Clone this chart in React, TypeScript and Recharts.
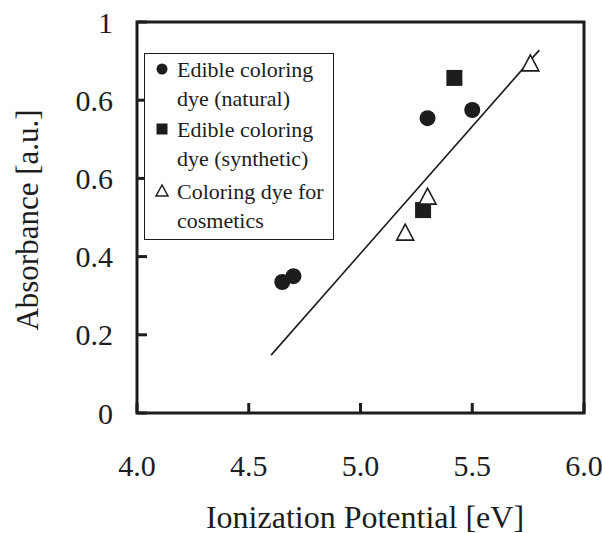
import { ScatterChart, Scatter, XAxis, YAxis, ReferenceArea } from "recharts";

// values
const naturalDye = [
  { x: 4.65, y: 0.335 },
  { x: 4.7, y: 0.35 },
  { x: 5.3, y: 0.754 },
  { x: 5.5, y: 0.775 },
];
const syntheticDye = [
  { x: 5.42, y: 0.857 },
  { x: 5.28, y: 0.519 },
];
const cosmeticDye = [
  { x: 5.2, y: 0.46 },
  { x: 5.3, y: 0.552 },
  { x: 5.76, y: 0.893 },
];
const fitLine = [
  { x: 4.6, y: 0.148 },
  { x: 5.8, y: 0.928 },
];

const xTicks = [4.0, 4.5, 5.0, 5.5, 6.0];
const yTicks = [0, 0.2, 0.4, 0.6, 0.8, 1];
const yTickLabels = ["0", "0.2", "0.4", "0.6", "0.6", "1"];

const seriesNames = [
  ["Edible coloring", "dye (natural)"],
  ["Edible coloring", "dye (synthetic)"],
  ["Coloring dye for", "cosmetics"],
];

const FONT = "'Liberation Serif', 'Times New Roman', serif";
const INK = "#1d1d1d";

const CircleDot = (props: any) => <circle cx={props.cx} cy={props.cy} r={8} fill={INK} />;
const SquareDot = (props: any) => (
  <rect x={props.cx - 8} y={props.cy - 8} width={16} height={16} fill={INK} />
);
const TriangleDot = (props: any) => {
  const { cx, cy } = props;
  return (
    <polygon
      points={`${cx},${cy - 9} ${cx - 8.5},${cy + 7} ${cx + 8.5},${cy + 7}`}
      fill="#fff"
      stroke={INK}
      strokeWidth={1.6}
    />
  );
};
const NoDot = () => <g />;

const YTick = (props: any) => {
  const { x, y, index } = props;
  return (
    <g>
      <line x1={x} x2={x + 10} y1={y} y2={y} stroke={INK} strokeWidth={3} />
      <text x={x - 24} y={y} textAnchor="end" dominantBaseline="central" fontSize={30} fontFamily={FONT} fill={INK}>
        {yTickLabels[index]}
      </text>
    </g>
  );
};

const XTick = (props: any) => {
  const { x, y, payload } = props;
  return (
    <g>
      <line x1={x} x2={x} y1={y} y2={y - 10} stroke={INK} strokeWidth={3} />
      <text x={x} y={y + 52} textAnchor="middle" dominantBaseline="central" fontSize={30} fontFamily={FONT} fill={INK}>
        {Number(payload.value).toFixed(1)}
      </text>
    </g>
  );
};

const markerFor = (i: number) => {
  if (i === 0) return <circle cx={9} cy={9} r={5.5} fill={INK} />;
  if (i === 1) return <rect x={3.5} y={3.5} width={11} height={11} fill={INK} />;
  return <polygon points="9,3 3,14 15,14" fill="#fff" stroke={INK} strokeWidth={1.5} />;
};

const LegendBox = () => (
  <div
    style={{
      position: "absolute",
      left: 144,
      top: 53,
      border: `1.5px solid ${INK}`,
      background: "#fff",
      boxSizing: "border-box",
      width: 190,
      height: 187,
      padding: "1px 0 0 0",
      fontFamily: FONT,
      fontSize: 22,
      color: INK,
    }}
  >
    {seriesNames.map((lines, i) => (
      <div key={i} style={{ position: "relative", marginBottom: i === 1 ? 4 : 2, paddingLeft: 32 }}>
        <svg width={18} height={18} style={{ position: "absolute", left: 8, top: 5 }}>
          {markerFor(i)}
        </svg>
        {lines.map((l, j) => (
          <div key={j} style={{ lineHeight: "29px", whiteSpace: "nowrap" }}>
            {l}
          </div>
        ))}
      </div>
    ))}
  </div>
);

export default function App() {
  return (
    <div style={{ position: "absolute", left: 0, top: 0, width: 602, height: 533, background: "#fff" }}>
      <ScatterChart width={602} height={533} margin={{ top: 22, right: 18, left: 0, bottom: 0 }}>
        <XAxis
          type="number"
          dataKey="x"
          domain={[4, 6]}
          ticks={xTicks}
          height={120}
          axisLine={false}
          tickLine={false}
          tickSize={0}
          tickMargin={0}
          tick={<XTick />}
          allowDataOverflow
        />
        <YAxis
          type="number"
          dataKey="y"
          domain={[0, 1]}
          ticks={yTicks}
          width={137}
          axisLine={false}
          tickLine={false}
          tickSize={0}
          tickMargin={0}
          tick={<YTick />}
          allowDataOverflow
        />
        <ReferenceArea x1={4} x2={6} y1={0} y2={1} fill="none" stroke={INK} strokeWidth={3} />
        <Scatter data={fitLine} line={{ stroke: INK, strokeWidth: 1.6 }} shape={<NoDot />} isAnimationActive={false} legendType="none" />
        <Scatter name="natural" data={naturalDye} shape={<CircleDot />} isAnimationActive={false} />
        <Scatter name="synthetic" data={syntheticDye} shape={<SquareDot />} isAnimationActive={false} />
        <Scatter name="cosmetics" data={cosmeticDye} shape={<TriangleDot />} isAnimationActive={false} />
      </ScatterChart>
      <LegendBox />
      <div
        style={{
          position: "absolute",
          left: 28,
          top: 220,
          transform: "translate(-50%, -50%) rotate(-90deg)",
          fontFamily: FONT,
          fontSize: 31,
          color: INK,
          whiteSpace: "nowrap",
        }}
      >
        Absorbance [a.u.]
      </div>
      <div
        style={{
          position: "absolute",
          left: 365,
          top: 517,
          transform: "translate(-50%, -50%)",
          fontFamily: FONT,
          fontSize: 32,
          color: INK,
          whiteSpace: "nowrap",
        }}
      >
        Ionization Potential [eV]
      </div>
    </div>
  );
}
